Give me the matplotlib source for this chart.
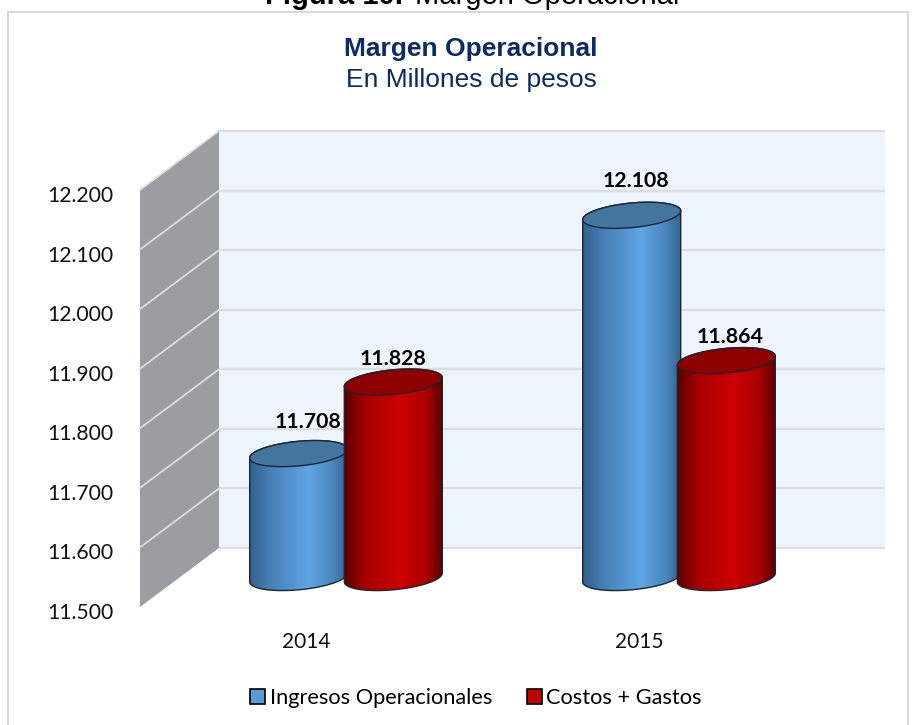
import numpy as np
import matplotlib
matplotlib.use("Agg")
import matplotlib.pyplot as plt
from matplotlib.patches import Patch, PathPatch, Polygon, Rectangle
from matplotlib.path import Path
from matplotlib.colors import LinearSegmentedColormap
from matplotlib.transforms import ScaledTranslation

years = ["2014", "2015"]
ingresos = [11708, 12108]
costos = [11828, 11864]
yticks = [11500, 11600, 11700, 11800, 11900, 12000, 12100, 12200]
ytick_labels = ["11.500", "11.600", "11.700", "11.800", "11.900", "12.000", "12.100", "12.200"]
series_names = ["Ingresos Operacionales", "Costos + Gastos"]

W, H = 919, 725
fig = plt.figure(figsize=(W / 100, H / 100), dpi=100, facecolor="white")

def place(x0, x1, ytop, ybot):
    return [x0 / W, 1 - ybot / H, (x1 - x0) / W, (ybot - ytop) / H]

# frame of the chart, cut by the bottom of the image
fig.add_artist(Rectangle((8 / W, -0.02), 900 / W, 1.0 - 12 / H + 0.02, transform=fig.transFigure,
                         facecolor="white", edgecolor="#d9d9d9", lw=1.5, zorder=-1))

# bars live on the middle plane of the 3d box
ax = fig.add_axes(place(179.5, 845.5, 160.5, 577.5))
ax.set_xlim(-0.5, 1.5)
ax.set_ylim(11500, 12200)
ax.axis("off")

px_x = 1 / 333.0            # one pixel in category units
px_y = 700 / 417.0          # one pixel in value units
dep_x = 39.5 * px_x
dep_y = 29.5 * px_y

# back wall and side wall
ax.add_patch(Rectangle((-0.5 + dep_x, 11500 + dep_y), 2, 700, facecolor="#edf4fc", edgecolor="none",
                       clip_on=False, zorder=1))
ax.add_patch(Polygon([(-0.5 - dep_x, 11500 - dep_y), (-0.5 + dep_x, 11500 + dep_y),
                      (-0.5 + dep_x, 12200 + dep_y), (-0.5 - dep_x, 12200 - dep_y)],
                     facecolor="#9a9da1", edgecolor="none", clip_on=False, zorder=1))
for t in yticks:
    ax.plot([-0.5 + dep_x, 1.5 + dep_x], [t + dep_y, t + dep_y], color="#dedede", lw=1.6,
            clip_on=False, zorder=2, solid_capstyle="butt")
    if t > 11500:
        ax.plot([-0.5 - dep_x, -0.5 + dep_x], [t - dep_y, t + dep_y], color="#dcdcdc", lw=1.3,
                clip_on=False, zorder=2)

cm_blue = LinearSegmentedColormap.from_list("b", [(0, "#33628c"), (0.2, "#467fb5"), (0.6, "#5fa5e4"),
                                                  (0.85, "#4a85bb"), (1, "#35648f")])
cm_red = LinearSegmentedColormap.from_list("r", [(0, "#5a0000"), (0.22, "#a80000"), (0.58, "#cf0000"),
                                                 (0.85, "#a80000"), (1, "#5c0000")])
grad = np.linspace(0, 1, 256).reshape(1, -1)
bar_w = 98 * px_x
rx = bar_w / 2
ry = 12.3 * px_y
tilt = 0.09 * 49 * px_y     # right end of the ellipse sits higher

def ell(cx, cy, t):
    return np.c_[cx + rx * np.cos(t), cy + ry * np.sin(t) + tilt * np.cos(t)]

def cylinder(cx, val, cmap, top_col, z):
    low = ell(cx, 11500, np.linspace(np.pi, 2 * np.pi, 60))
    upp = ell(cx, val, np.linspace(0, np.pi, 60))
    body = np.vstack([low, upp, low[:1]])
    clip = PathPatch(Path(body), transform=ax.transData, facecolor="none", edgecolor="none")
    ax.add_patch(clip)
    im = ax.imshow(grad, extent=(cx - rx, cx + rx, 11500 - 40, val + 30), cmap=cmap, aspect="auto", zorder=z)
    im.set_clip_box(fig.bbox)
    im.set_clip_path(clip)
    ax.add_patch(PathPatch(Path(body), facecolor="none", edgecolor="#1c2630", lw=1.0, clip_on=False, zorder=z + 0.2))
    top = ell(cx, val, np.linspace(0, 2 * np.pi, 120))
    ax.add_patch(Polygon(top, closed=True, facecolor=top_col, edgecolor="#1c2630", lw=1.0, clip_on=False, zorder=z + 0.3))

label_off = [[(9, 32), (4, 34.5)], [(0, 23), (4, 24)]]
offs = [-47.3 * px_x, 47.3 * px_x]
for j, (vals, cmap, top_col) in enumerate([(ingresos, cm_blue, "#44759f"), (costos, cm_red, "#8f0000")]):
    for i, v in enumerate(vals):
        cylinder(i + offs[j], v, cmap, top_col, 5 + i * 2 + j)
        txt = f"{v:,}".replace(",", ".")
        ax.annotate(txt, (i + offs[j], v), xytext=(label_off[j][i][0] * 0.72, label_off[j][i][1] * 0.72),
                    textcoords="offset points", ha="center", va="center", fontsize=15.3, fontweight="bold",
                    family="Lato", color="black", zorder=20, annotation_clip=False)
ax.set_xlim(-0.5, 1.5)
ax.set_ylim(11500, 12200)

# axis labels sit on the front plane
front = fig.add_axes(place(140, 806, 190, 607), facecolor="none")
front.set_xlim(-0.5, 1.5)
front.set_ylim(11500, 12200)
for s in front.spines.values():
    s.set_visible(False)
front.set_yticks(yticks)
front.set_yticklabels(ytick_labels, family="Lato", fontsize=15.2, color="#111111")
front.set_xticks([0, 1])
front.set_xticklabels(years, family="Lato", fontsize=15, color="#111111")
front.tick_params(length=0, axis="y", pad=19)
front.tick_params(length=0, axis="x", pad=18)
for lab in front.get_yticklabels():
    lab.set_transform(lab.get_transform() + ScaledTranslation(0, -4 / 100, fig.dpi_scale_trans))

fig.text(265 / W, 1 - 4 / H, "Figura 10.", family="Liberation Sans", fontweight="bold", fontsize=21,
         ha="left", va="baseline", color="black")
fig.text(415 / W, 1 - 4 / H, "Margen Operacional", family="Liberation Sans", fontsize=21,
         ha="left", va="baseline", color="black")
fig.text(471 / W, 1 - 49 / H, "Margen Operacional", family="Liberation Sans", fontweight="bold", fontsize=19,
         ha="center", va="center", color="#0b2a66")
fig.text(471 / W, 1 - 80 / H, "En Millones de pesos", family="Liberation Sans", fontsize=19,
         ha="center", va="center", color="#0b2a66")

handles = [Patch(facecolor="#5b9bd5", edgecolor="black", lw=1.2), Patch(facecolor="#c00000", edgecolor="black", lw=1.2)]
fig.legend(handles, series_names, loc="center", bbox_to_anchor=(476 / W, 1 - 698 / H), ncol=2, frameon=False,
           prop={"family": "Lato", "size": 15.7}, handlelength=0.68, handleheight=0.68, handletextpad=0.2,
           columnspacing=1.6)

fig.savefig("out.png", dpi=100)
